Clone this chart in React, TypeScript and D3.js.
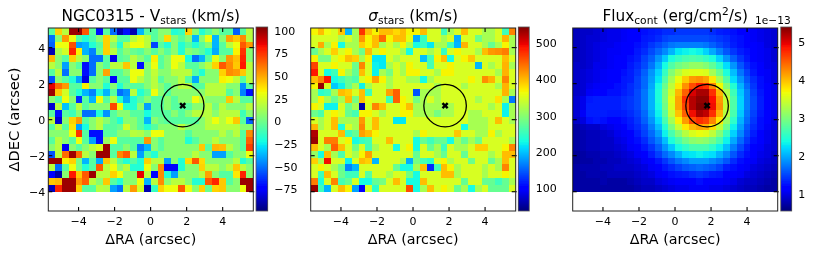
import React from 'react';
import * as d3 from 'd3';

const velocityRows: number[][] = [
[-12,40,12,98,98,66,-12,-72,-12,-52,-90,-72,-90,-38,-12,-12,0,0,-25,-20,40,0,-25,-12,0,-12,-12,-55,-12,12],
[-52,0,52,25,-12,-25,-15,0,40,12,-12,-12,12,22,12,-12,0,38,0,-12,0,-38,0,25,-38,0,50,42,55,12],
[-55,25,25,68,-42,-38,-25,-12,40,0,-25,12,25,25,12,-60,-12,-25,0,-25,-12,-25,-12,0,-38,-12,12,25,66,52],
[-90,8,18,78,28,-38,-48,-8,40,12,-12,0,-8,-12,0,-12,0,-12,0,-25,0,-5,-12,-25,-40,-12,-12,28,74,0],
[46,0,-12,40,12,0,-52,-52,-12,-80,-12,-8,12,0,-12,28,-12,0,25,25,-28,-52,-38,-12,22,0,52,44,78,0],
[12,0,-42,0,-12,-72,-52,0,-12,12,12,42,12,-72,0,25,-12,0,25,12,-12,-12,0,12,40,66,55,42,80,12],
[-12,12,-52,0,0,-72,-52,0,50,-12,-12,0,25,25,0,14,0,0,12,12,12,-12,-25,0,0,40,55,52,42,12],
[-58,0,-12,-25,-42,-82,-12,0,-12,-75,-12,-12,25,12,0,12,-12,0,0,12,-12,-40,0,0,0,28,25,14,-12,12],
[85,62,52,-12,-12,28,0,0,-25,0,-25,-8,-12,-12,0,12,0,-12,0,12,12,-12,-12,12,12,12,0,0,-45,-12],
[98,42,18,-12,-25,-38,-48,-25,-38,-12,-52,-45,12,-25,-12,25,0,-12,0,0,0,0,0,12,12,12,-12,0,-48,-72],
[0,-12,25,0,-65,-12,-38,25,-12,12,-25,-40,-25,-12,0,-12,-12,0,-12,0,0,25,12,0,0,0,42,12,-12,-12],
[-85,12,-35,-12,12,-12,0,0,0,70,25,-25,-25,0,-42,-12,-12,0,-12,-12,-12,0,0,12,-5,12,0,0,0,12],
[-12,-72,-12,-18,0,-52,-52,-25,-45,-12,0,0,-12,-12,-28,-12,-12,-12,0,-12,0,12,12,12,0,12,12,12,-18,0],
[12,-85,0,40,52,-12,0,12,0,-12,-25,0,0,-12,-38,0,-8,-12,-12,-12,-12,-12,0,12,25,12,25,42,-12,-55],
[-12,12,-12,36,-42,-28,0,12,-12,-12,-8,18,0,-12,-25,-12,0,0,0,12,0,0,0,12,12,12,12,12,0,0],
[0,0,0,25,74,-12,-72,-72,-12,-12,0,0,12,10,0,25,25,0,0,0,-12,0,0,0,0,12,0,12,-12,55],
[-12,12,0,-12,25,-12,-42,-72,4,25,-12,-12,-12,-12,52,0,-12,0,0,0,-25,-12,0,0,12,0,0,0,-12,64],
[0,12,-78,0,-12,0,12,20,98,-12,-12,0,-12,-50,-38,0,-12,0,0,0,0,0,42,-12,46,44,12,0,-12,72],
[-58,12,62,98,62,12,0,98,98,-12,56,66,12,-42,-12,-25,0,0,0,0,0,12,0,0,-42,-42,-12,0,0,25],
[98,98,28,40,-5,-38,-12,-40,42,12,-12,-25,-12,-25,40,12,12,-42,0,-25,38,66,38,0,0,0,0,12,-25,-12],
[12,-52,-12,25,-5,-25,-12,66,12,25,0,12,-25,-25,25,0,55,-75,-75,-25,0,0,40,12,12,0,12,42,12,0],
[-75,-92,0,80,42,66,98,12,12,40,25,0,0,85,12,-75,55,-25,-42,0,0,0,12,50,0,-12,-12,35,78,0],
[42,45,98,98,52,64,12,0,42,-12,-25,0,0,25,-38,12,55,0,12,12,0,-25,-25,66,78,42,-12,0,98,98],
[-88,78,98,98,40,-12,-12,12,10,-42,-52,12,52,18,-90,-20,40,25,25,66,25,0,40,-8,40,42,0,0,25,98],
];

const sigmaRows: number[][] = [
[365,395,360,345,390,190,315,470,395,365,395,395,380,395,365,365,395,345,345,250,315,345,395,345,345,315,315,345,250,425],
[345,345,345,345,315,345,315,415,365,395,440,365,395,395,355,185,245,345,345,315,345,185,345,345,280,315,315,345,400,315],
[345,405,315,365,225,315,315,385,365,395,315,345,315,365,315,225,245,215,315,315,250,190,400,345,345,315,275,315,365,315],
[275,315,345,385,345,365,315,280,395,345,365,345,345,315,225,345,345,315,345,245,345,365,345,345,315,395,415,420,430,315],
[365,285,285,345,365,395,385,315,365,215,215,345,315,345,345,345,195,255,365,395,225,345,365,390,345,345,345,345,395,345],
[460,345,345,365,345,345,280,425,345,220,215,315,345,315,365,345,345,255,345,345,365,345,345,345,190,345,315,345,400,315],
[485,345,225,250,365,315,275,395,345,220,315,285,345,315,365,365,345,345,315,365,365,345,345,345,345,345,345,315,400,345],
[395,425,485,225,250,275,260,345,365,410,365,315,345,345,315,315,225,315,345,345,345,345,345,365,345,420,400,345,425,345],
[365,530,345,200,220,275,315,220,315,345,345,315,345,345,345,345,345,345,315,345,345,345,315,345,345,345,345,315,400,345],
[315,240,250,315,395,385,345,395,250,345,345,410,445,345,345,140,315,315,315,345,345,345,345,345,345,345,345,345,400,315],
[315,365,315,275,315,395,285,395,355,345,345,250,445,365,345,285,315,345,315,345,345,345,345,345,315,345,345,375,315,160],
[365,345,220,220,345,280,315,55,345,425,395,345,345,365,395,315,315,315,315,315,315,345,345,345,345,345,315,345,220,315],
[280,260,345,365,345,275,255,365,365,345,315,345,345,365,365,315,315,315,285,315,315,345,345,315,315,345,345,345,220,315],
[345,315,345,395,315,315,315,415,345,395,345,345,215,215,345,345,345,345,345,345,345,345,345,315,315,315,345,395,345,315],
[400,315,345,395,230,345,315,425,345,395,345,345,345,345,345,345,345,345,345,345,345,345,225,315,315,315,345,345,345,345],
[520,345,345,345,395,250,275,410,395,365,345,345,345,345,345,315,365,345,345,345,345,390,345,345,315,315,365,315,345,345],
[530,345,430,430,345,365,225,245,255,345,345,395,345,345,345,225,275,250,275,275,225,315,275,315,280,345,345,345,345,315],
[395,345,315,445,395,345,280,345,255,315,345,345,225,345,365,225,345,275,315,250,345,315,315,345,385,385,345,345,365,425],
[305,225,395,315,260,345,315,365,410,345,345,345,345,345,345,275,345,345,315,275,345,345,275,345,345,345,315,345,395,395],
[385,315,490,345,345,220,345,395,385,190,345,345,345,315,185,285,255,240,345,365,315,345,345,280,345,345,275,315,395,345],
[345,365,345,315,275,165,190,345,345,345,345,345,275,225,225,315,395,120,250,395,365,315,345,345,345,315,345,315,425,345],
[345,250,395,345,280,250,250,345,265,345,345,315,345,345,285,225,345,345,345,395,395,315,345,345,345,315,345,345,365,345],
[430,230,345,425,255,275,345,225,225,275,285,345,395,345,225,225,395,345,345,345,345,345,275,345,345,275,275,250,275,315],
[530,250,190,345,395,365,180,100,345,240,345,345,345,345,455,225,315,395,345,365,345,275,315,225,315,345,275,275,275,345],
];

const fluxRows: number[][] = [
[.8,.85,.85,.9,.95,1,1,1.05,1.1,1.15,1.2,1.25,1.3,1.35,1.35,1.4,1.4,1.4,1.4,1.4,1.35,1.3,1.25,1.2,1.15,1.1,1.05,1,.95,.9],
[.8,.85,.9,.9,.95,1,1,1.05,1.1,1.15,1.25,1.3,1.35,1.45,1.5,1.5,1.5,1.5,1.5,1.5,1.45,1.4,1.35,1.25,1.2,1.1,1.05,1,.95,.9],
[.8,.85,.9,.95,1,1,1.05,1.1,1.1,1.2,1.3,1.4,1.5,1.6,1.7,1.75,1.75,1.75,1.75,1.7,1.6,1.5,1.4,1.3,1.2,1.15,1.1,1.05,.95,.9],
[.8,.85,.9,.95,1,1.05,1.05,1.1,1.15,1.25,1.35,1.5,1.65,1.8,2.0,2.25,2.3,2.35,2.3,2.15,1.95,1.75,1.55,1.4,1.3,1.2,1.1,1.05,1,.9],
[.8,.85,.9,.95,1,1.05,1.1,1.15,1.2,1.3,1.45,1.6,1.85,2.1,2.4,2.55,2.65,2.7,2.65,2.55,2.4,2.15,1.85,1.6,1.4,1.25,1.15,1.05,1,.9],
[.85,.85,.9,1,1,1.05,1.1,1.15,1.25,1.35,1.5,1.7,2.0,2.35,2.7,2.9,3.0,3.1,3.1,3.0,2.8,2.5,2.2,1.85,1.55,1.35,1.2,1.1,1,.95],
[.85,.9,.95,1,1.05,1.1,1.15,1.2,1.3,1.4,1.6,1.85,2.15,2.55,3.0,3.3,3.5,3.55,3.55,3.5,3.2,2.85,2.4,2.05,1.7,1.45,1.25,1.15,1.05,.95],
[.85,.9,.95,1,1.05,1.1,1.15,1.25,1.3,1.45,1.65,1.9,2.25,2.7,3.2,3.6,3.9,4.15,4.2,4.1,3.75,3.2,2.7,2.2,1.85,1.55,1.35,1.2,1.05,.95],
[.85,.9,1,1.05,1.1,1.15,1.2,1.25,1.35,1.45,1.65,1.95,2.35,2.85,3.35,3.75,4.2,4.55,4.8,4.7,4.25,3.65,3.0,2.45,2.0,1.65,1.4,1.2,1.1,1],
[.85,.9,1.05,1.15,1.15,1.2,1.2,1.3,1.35,1.5,1.7,2.0,2.4,2.95,3.45,4.0,4.45,5.0,5.2,5.2,4.7,4.0,3.25,2.6,2.1,1.75,1.45,1.25,1.1,1],
[.9,1.0,1.25,1.3,1.3,1.3,1.3,1.35,1.4,1.5,1.7,2.0,2.4,2.95,3.55,4.1,4.7,5.15,5.3,5.3,4.85,4.15,3.4,2.7,2.15,1.75,1.5,1.3,1.1,1],
[.9,1.0,1.3,1.3,1.3,1.3,1.3,1.35,1.4,1.5,1.7,2.0,2.35,2.9,3.5,4.1,4.6,5.15,5.35,5.37,4.9,4.2,3.4,2.7,2.15,1.75,1.5,1.3,1.15,1],
[.9,1.05,1.3,1.3,1.3,1.25,1.25,1.3,1.35,1.45,1.65,1.95,2.3,2.8,3.4,3.95,4.45,4.9,5.2,5.1,4.7,4.05,3.3,2.65,2.1,1.7,1.45,1.25,1.1,1],
[.85,.95,1.2,1.25,1.2,1.15,1.15,1.2,1.3,1.4,1.6,1.85,2.2,2.65,3.2,3.7,4.15,4.55,4.7,4.6,4.25,3.75,3.1,2.5,2,1.65,1.4,1.2,1.1,.95],
[.7,.8,.85,.85,.95,1,1.05,1.15,1.25,1.35,1.5,1.75,2.05,2.45,2.95,3.4,3.75,4.0,4.1,4.05,3.8,3.35,2.85,2.3,1.9,1.55,1.35,1.2,1.05,.95],
[.7,.75,.8,.8,.85,.9,1,1.05,1.15,1.3,1.45,1.65,1.9,2.3,2.65,3.0,3.3,3.5,3.6,3.55,3.35,3.0,2.55,2.15,1.8,1.5,1.3,1.15,1,.9],
[.7,.75,.8,.8,.85,.85,.95,1,1.1,1.2,1.35,1.55,1.75,2.05,2.4,2.65,2.9,3.05,3.1,3.05,2.9,2.65,2.3,1.95,1.65,1.4,1.2,1.1,1,.9],
[.7,.75,.8,.8,.85,.85,.9,.95,1.05,1.15,1.25,1.4,1.6,1.85,2.1,2.35,2.5,2.65,2.65,2.65,2.5,2.3,2.05,1.75,1.5,1.3,1.15,1.05,.95,.9],
[.65,.7,.75,.75,.8,.8,.85,.9,.95,1.05,1.15,1.3,1.45,1.65,1.8,2.0,2.2,2.25,2.3,2.25,2.2,2.0,1.8,1.55,1.35,1.2,1.1,1,.95,.85],
[.65,.7,.7,.75,.75,.8,.8,.85,.9,.95,1.05,1.15,1.25,1.4,1.55,1.7,1.8,1.9,1.9,1.9,1.8,1.7,1.55,1.35,1.2,1.1,1.05,.95,.9,.85],
[.7,.75,.75,.75,.8,.8,.85,.85,.85,.9,.95,1.05,1.15,1.25,1.35,1.45,1.55,1.6,1.65,1.6,1.55,1.45,1.3,1.2,1.1,1.05,.95,.9,.85,.8],
[.7,.7,.75,.75,.75,.8,.8,.8,.8,.85,.9,.95,1.05,1.1,1.2,1.25,1.3,1.35,1.4,1.35,1.3,1.25,1.15,1.1,1.05,.95,.9,.85,.8,.75],
[.7,.7,.7,.7,.75,.7,.7,.7,.75,.8,.85,.85,.95,1,1.05,1.1,1.15,1.15,1.2,1.15,1.15,1.1,1.05,1,.9,.85,.85,.8,.75,.7],
[.7,.7,.7,.7,.7,.7,.7,.7,.7,.75,.8,.8,.85,.9,.95,1,1,1.05,1.05,1.05,1,1,.95,.9,.85,.8,.8,.75,.7,.7],
];

const xTicks = [-4, -2, 0, 2, 4];
const yTicks = [-4, -2, 0, 2, 4];
const velocityBarTicks = [-75, -50, -25, 0, 25, 50, 75, 100];
const sigmaBarTicks = [100, 200, 300, 400, 500];
const fluxBarTicks = [1, 2, 3, 4, 5];
const nucleus = { ra: 1.78, dec: 0.78, radius: 1.18 };

const FONT = 'DejaVu Sans';
const X_LIM: [number, number] = [-5.68, 5.7];
const Y_LIM: [number, number] = [-5.07, 5.09];
const DATA_BOTTOM = -4;
const TOP = 28, BOTTOM = 211, W = 205;

const jetR = d3.scaleLinear([0, .35, .66, .89, 1], [0, 0, 1, 1, .5]);
const jetG = d3.scaleLinear([0, .125, .375, .64, .91, 1], [0, 0, 1, 1, 0, 0]);
const jetB = d3.scaleLinear([0, .11, .34, .65, 1], [.5, 1, 1, 0, 0]);
const jet = (t: number) => {
  const f = Math.max(0, Math.min(1, t));
  return d3.rgb(jetR(f) * 255, jetG(f) * 255, jetB(f) * 255).formatHex();
};

const minus = (v: number) => String(v).replace('-', '\u2212');
// my colour readings of the near-zero velocities came out slightly too cool
const readV = (v: number) => (v > -30 && v < 30 ? v + 5 : v);
const same = (v: number) => v;

function Panel({ left, rows, read, domain, barTicks, title, barX, barW, showY, offset }: any) {
  const x = d3.scaleLinear(X_LIM, [left, left + W]);
  const y = d3.scaleLinear(Y_LIM, [BOTTOM, TOP]);
  const color = d3.scaleLinear(domain, [0, 1]);
  const nr = rows.length, nc = rows[0].length;
  const cw = (X_LIM[1] - X_LIM[0]) / nc;
  const ch = (Y_LIM[1] - DATA_BOTTOM) / nr;
  const bar = d3.scaleLinear(domain, [BOTTOM, TOP]);
  const barSteps = d3.range(0, 184);
  const tick = 4;
  return (
    <g fontFamily={FONT} fill="#000">
      <g shapeRendering="crispEdges">
        {rows.map((row: number[], r: number) => row.map((v: number, c: number) => {
          const x0 = x(X_LIM[0] + c * cw), x1 = x(X_LIM[0] + (c + 1) * cw);
          const y0 = y(Y_LIM[1] - r * ch), y1 = y(Y_LIM[1] - (r + 1) * ch);
          return <rect key={`${r}-${c}`} x={x0} y={y0} width={x1 - x0} height={y1 - y0} fill={jet(color(read(v)))} />;
        }))}
      </g>
      <circle cx={x(nucleus.ra)} cy={y(nucleus.dec)} r={x(nucleus.radius) - x(0)} fill="none" stroke="#000" strokeWidth={1.3} />
      <path transform={`translate(${x(nucleus.ra)},${y(nucleus.dec)}) scale(1.15)`} d="M-3,-1.5L-1.5,-3L0,-1.5L1.5,-3L3,-1.5L1.5,0L3,1.5L1.5,3L0,1.5L-1.5,3L-3,1.5L-1.5,0Z" fill="#000" />
      {xTicks.map(t => <g key={t}>
        <line x1={x(t)} x2={x(t)} y1={TOP} y2={TOP + tick} stroke="#000" strokeWidth={1.1} />
        <line x1={x(t)} x2={x(t)} y1={BOTTOM} y2={BOTTOM - tick} stroke="#000" strokeWidth={1.1} />
        <text x={x(t)} y={224.5} textAnchor="middle" fontSize={11}>{minus(t)}</text>
      </g>)}
      {yTicks.map(t => <g key={t}>
        <line x1={left} x2={left + tick} y1={y(t)} y2={y(t)} stroke="#000" strokeWidth={1.1} />
        <line x1={left + W + 1} x2={left + W - tick} y1={y(t)} y2={y(t)} stroke="#000" strokeWidth={1.1} />
        {showY && <text x={left - 3} y={y(t) + 4} textAnchor="end" fontSize={11}>{minus(t)}</text>}
      </g>)}
      <rect x={left} y={TOP} width={W} height={BOTTOM - TOP} fill="none" stroke="#222" strokeWidth={1} />
      <text x={left + W / 2} y={243.5} textAnchor="middle" fontSize={14.3}>ΔRA (arcsec)</text>
      {showY && <text transform={`translate(19,${(TOP + BOTTOM) / 2}) rotate(-90)`} textAnchor="middle" fontSize={14.6}>ΔDEC (arcsec)</text>}
      <text x={left + W / 2} y={20.5} textAnchor="middle" fontSize={15.3}>{title}</text>
      <g shapeRendering="crispEdges">
        {barSteps.map(i => {
          const v = bar.invert(TOP + i + .5);
          return <rect key={i} x={barX} y={TOP + i - 1} width={barW} height={1.4} fill={jet(color(v))} />;
        })}
      </g>
      <rect x={barX} y={TOP - 1} width={barW} height={BOTTOM - TOP + 1} fill="none" stroke="#555" strokeWidth={.8} />
      {barTicks.map((t: number) => <text key={t} x={barX + barW + 6.5} y={bar(t) + 4} fontSize={11}>{minus(t)}</text>)}
      {offset && <text x={barX + barW - 1} y={24} textAnchor="end" fontSize={10.6}>{offset}</text>}
    </g>
  );
}

export default function App() {
  return (
    <svg width={813} height={254} style={{ position: 'absolute', left: 0, top: 0, display: 'block', background: '#fff' }}>
      <defs>
        <filter id="soft" x="0" y="0" width="100%" height="100%">
          <feGaussianBlur stdDeviation="0.4" />
        </filter>
      </defs>
      <g filter="url(#soft)">
        <rect width={813} height={254} fill="#fff" />
        <Panel left={48.3} rows={velocityRows} read={readV} domain={[-99, 103]} barTicks={velocityBarTicks} barX={256} barW={11.7} showY
          title={<>NGC0315 - V<tspan dy={3} fontSize={10.7}>stars</tspan><tspan dy={-3}>{' (km/s)'}</tspan></>} />
        <Panel left={310.7} rows={sigmaRows} read={same} domain={[37, 541]} barTicks={sigmaBarTicks} barX={518.3} barW={11}
          title={<><tspan fontStyle="italic">σ</tspan><tspan dy={3} fontSize={10.7}>stars</tspan><tspan dy={-3}>{' (km/s)'}</tspan></>} />
        <Panel left={572.7} rows={fluxRows} read={same} domain={[.55, 5.37]} barTicks={fluxBarTicks} barX={780.7} barW={11} offset="1e−13"
          title={<>Flux<tspan dy={3} fontSize={10.7}>cont</tspan><tspan dy={-3}>{' (erg/cm'}</tspan><tspan dy={-5.5} fontSize={10.7}>2</tspan><tspan dy={5.5}>/s)</tspan></>} />
      </g>
    </svg>
  );
}
